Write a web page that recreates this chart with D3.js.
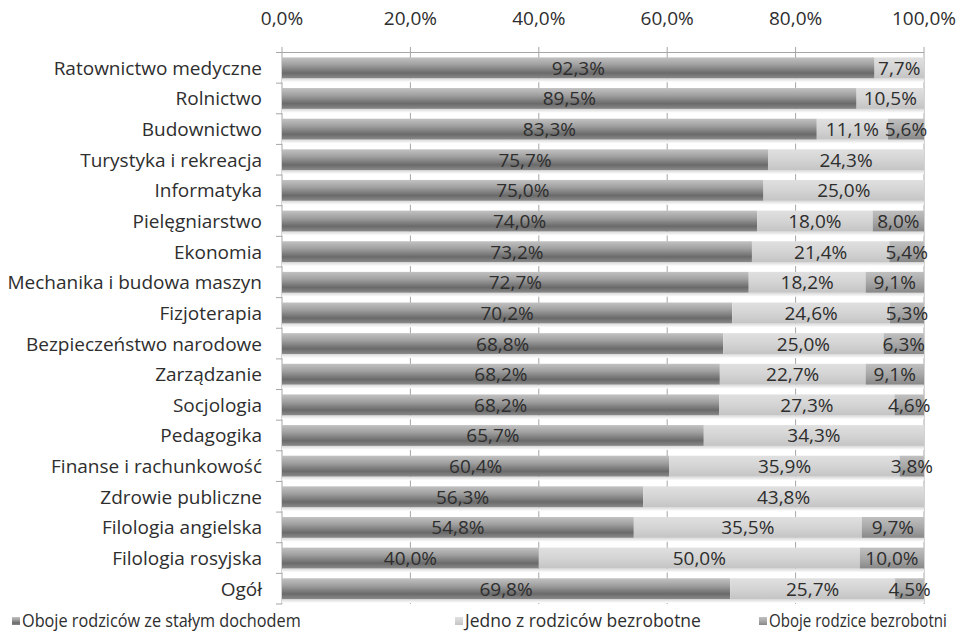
<!DOCTYPE html>
<html><head><meta charset="utf-8">
<script src="https://cdn.jsdelivr.net/npm/d3@7/dist/d3.min.js"></script>
<style>
body{margin:0;background:#fff;}
svg text{font-family:"Open Sans","Liberation Sans",Arial,sans-serif;fill:#2e2e2e;}
</style></head>
<body><svg id="c" width="956" height="635"></svg>
<script>
const categories = ["Ratownictwo medyczne","Rolnictwo","Budownictwo","Turystyka i rekreacja","Informatyka","Pielęgniarstwo","Ekonomia","Mechanika i budowa maszyn","Fizjoterapia","Bezpieczeństwo narodowe","Zarządzanie","Socjologia","Pedagogika","Finanse i rachunkowość","Zdrowie publiczne","Filologia angielska","Filologia rosyjska","Ogół"];
const seriesNames = ["Oboje rodziców ze stałym dochodem","Jedno z rodziców bezrobotne","Oboje rodzice bezrobotni"];
const s1 = [92.3,89.5,83.3,75.7,75.0,74.0,73.2,72.7,70.2,68.8,68.2,68.2,65.7,60.4,56.3,54.8,40.0,69.8];
const s2 = [7.7,10.5,11.1,24.3,25.0,18.0,21.4,18.2,24.6,25.0,22.7,27.3,34.3,35.9,43.8,35.5,50.0,25.7];
const s3 = [0,0,5.6,0,0,8.0,5.4,9.1,5.3,6.3,9.1,4.6,0,3.8,0,9.7,10.0,4.5];
const ticks = [0,20,40,60,80,100];

const svg = d3.select("#c");
const L = 282, R = 924, T = 52.5, B = 604;
const x = d3.scaleLinear().domain([0,1]).range([L,R]);
const y = d3.scaleBand().domain(categories).range([T,B]).paddingInner(0.32).paddingOuter(0.16);
const fmt = v => v.toFixed(1).replace(".", ",") + "%";

const table = categories.map((c,i)=>({cat:c, a:s1[i], b:s2[i], c3:s3[i]}));
const stack = d3.stack().keys(["a","b","c3"]).offset(d3.stackOffsetExpand);
const layers = stack(table);

const defs = svg.append("defs");
function grad(id, stops){
  const g = defs.append("linearGradient").attr("id",id).attr("x1",0).attr("y1",0).attr("x2",0).attr("y2",1);
  stops.forEach(s=>g.append("stop").attr("offset",s[0]).attr("stop-color",s[1]));
}
grad("g0",[[0,"#c2c2c2"],[0.35,"#a0a0a0"],[0.75,"#6a6a6a"],[1,"#8a8a8a"]]);
grad("g1",[[0,"#e0e0e0"],[0.5,"#d4d4d4"],[1,"#c4c4c4"]]);
grad("g2",[[0,"#c0c0c0"],[0.5,"#a8a8a8"],[1,"#888888"]]);
grad("sh",[[0,"#d8d8d8"],[1,"#ffffff"]]);

// gridlines
svg.append("g").selectAll("line").data(ticks.slice(1)).join("line")
  .attr("x1",d=>x(d/100)).attr("x2",d=>x(d/100)).attr("y1",47).attr("y2",B)
  .attr("stroke","#a6a6a6").attr("stroke-width",1);
// axes
svg.append("line").attr("x1",L-6).attr("x2",R).attr("y1",T).attr("y2",T).attr("stroke","#a6a6a6");
svg.append("line").attr("x1",L).attr("x2",L).attr("y1",47).attr("y2",B).attr("stroke","#a6a6a6");
const bounds = d3.range(categories.length+1).map(i=>T+i*(B-T)/categories.length);
svg.append("g").selectAll("line").data(bounds).join("line")
  .attr("x1",L-6).attr("x2",L).attr("y1",d=>d).attr("y2",d=>d).attr("stroke","#a6a6a6");

svg.append("g").selectAll("text").data(ticks).join("text")
  .attr("x",d=>x(d/100)).attr("y",25).attr("text-anchor","middle").attr("font-size",19)
  .text(d=>fmt(d));

// shadows
svg.append("g").selectAll("rect").data(table).join("rect")
  .attr("x",L).attr("width",R-L).attr("y",d=>y(d.cat)+y.bandwidth()).attr("height",4)
  .attr("fill","url(#sh)");

const fills = ["url(#g0)","url(#g1)","url(#g2)"];
layers.forEach((layer,li)=>{
  svg.append("g").selectAll("rect").data(layer).join("rect")
    .attr("x",d=>x(d[0])).attr("width",d=>Math.max(0,x(d[1])-x(d[0])))
    .attr("y",d=>y(d.data.cat)).attr("height",y.bandwidth()).attr("fill",fills[li]);
  svg.append("g").selectAll("text").data(layer.filter(d=>d[1]-d[0]>0)).join("text")
    .attr("x",d=>x((d[0]+d[1])/2)).attr("y",d=>y(d.data.cat)+y.bandwidth()/2+7)
    .attr("text-anchor","middle").attr("font-size",19)
    .text(d=>fmt(d.data[layer.key]));
});

svg.append("g").selectAll("text").data(categories).join("text")
  .attr("x",262).attr("y",d=>y(d)+y.bandwidth()/2+7).attr("text-anchor","end").attr("font-size",19)
  .text(d=>d);

// legend
const lx = [12,455,759];
const lw = [279,236,178];
const lg = svg.append("g");
seriesNames.forEach((n,i)=>{
  lg.append("rect").attr("x",lx[i]).attr("y",617).attr("width",8).attr("height",8).attr("fill",fills[i]);
  const g = lg.append("g");
  const t = g.append("text").attr("x",0).attr("y",0).attr("font-size",18).text(n);
  const nat = t.node().getComputedTextLength();
  g.attr("transform",`translate(${lx[i]+10},627) scale(${lw[i]/nat},1)`);
});
</script></body></html>
